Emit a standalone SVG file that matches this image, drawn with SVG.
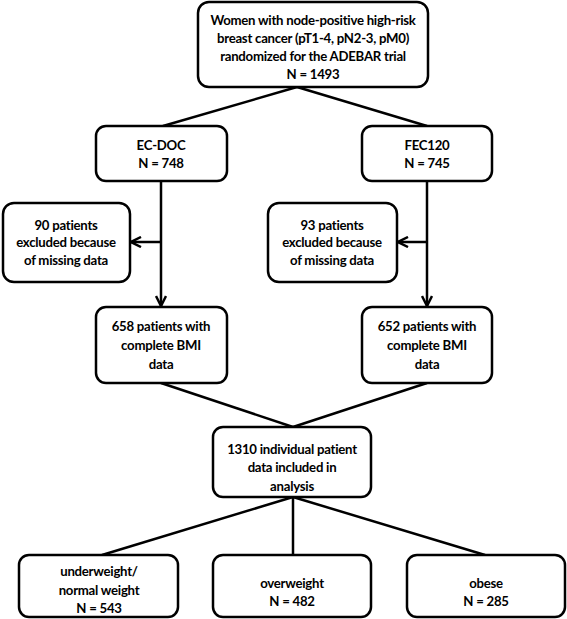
<svg xmlns="http://www.w3.org/2000/svg" width="567" height="619" viewBox="0 0 567 619">
<style>
rect{fill:#fff;stroke:#000;stroke-width:2.5}
text{font-family:Lato,"Liberation Sans",sans-serif;font-weight:bold;font-size:13.2px;letter-spacing:-0.25px;text-anchor:middle;fill:#000}
.c line{stroke:#000;stroke-width:2.5;fill:none}
</style>
<defs>
<marker id="ah" viewBox="0 0 10 10" refX="9" refY="5" markerWidth="5" markerHeight="5" orient="auto" markerUnits="strokeWidth">
<path d="M1,1 L9,5 L1,9" fill="none" stroke="#000" stroke-width="2"/>
</marker>
</defs>
<rect x="0" y="0" width="567" height="619" style="stroke:none"/>
<g class="c" id="connectors">
<line x1="297" y1="87" x2="163" y2="126"/>
<line x1="297" y1="87" x2="427" y2="126"/>
<line x1="161" y1="181" x2="161" y2="306" marker-end="url(#ah)"/>
<line x1="161" y1="242" x2="131" y2="242" marker-end="url(#ah)"/>
<line x1="427" y1="181" x2="427" y2="306" marker-end="url(#ah)"/>
<line x1="427" y1="242" x2="398" y2="242" marker-end="url(#ah)"/>
<line x1="161" y1="383" x2="293" y2="427"/>
<line x1="427" y1="383" x2="293" y2="427"/>
<line x1="293" y1="497" x2="102" y2="555"/>
<line x1="293" y1="497" x2="293" y2="555"/>
<line x1="293" y1="497" x2="485" y2="555"/>
</g>
<g id="top">
<rect x="198" y="2" width="230" height="85" rx="11"/>
<text x="313" y="25">Women with node-positive high-risk</text>
<text x="313" y="43">breast cancer (pT1-4, pN2-3, pM0)</text>
<text x="313" y="61">randomized for the ADEBAR trial</text>
<text x="313" y="79">N = 1493</text>
</g>
<g id="ecdoc">
<rect x="96" y="126" width="131" height="55" rx="10"/>
<text x="161" y="150">EC-DOC</text>
<text x="161" y="168">N = 748</text>
</g>
<g id="fec">
<rect x="362" y="126" width="130" height="55" rx="10"/>
<text x="427" y="150">FEC120</text>
<text x="427" y="168">N = 745</text>
</g>
<g id="excl1">
<rect x="3" y="203" width="127" height="79" rx="11"/>
<text x="66" y="230">90 patients</text>
<text x="66" y="247">excluded because</text>
<text x="66" y="265">of missing data</text>
</g>
<g id="excl2">
<rect x="268" y="203" width="129" height="79" rx="11"/>
<text x="332" y="230">93 patients</text>
<text x="332" y="247">excluded because</text>
<text x="332" y="265">of missing data</text>
</g>
<g id="bmi1">
<rect x="96" y="307" width="131" height="76" rx="10"/>
<text x="161" y="331">658 patients with</text>
<text x="161" y="350">complete BMI</text>
<text x="161" y="369">data</text>
</g>
<g id="bmi2">
<rect x="362" y="307" width="130" height="76" rx="10"/>
<text x="427" y="331">652 patients with</text>
<text x="427" y="350">complete BMI</text>
<text x="427" y="369">data</text>
</g>
<g id="all">
<rect x="213" y="427" width="158" height="70" rx="10"/>
<text x="292" y="454">1310 individual patient</text>
<text x="292" y="472">data included in</text>
<text x="292" y="491">analysis</text>
</g>
<g id="under">
<rect x="19" y="555" width="159" height="62" rx="10"/>
<text x="99" y="576">underweight/</text>
<text x="99" y="595">normal weight</text>
<text x="99" y="613">N = 543</text>
</g>
<g id="over">
<rect x="213" y="555" width="158" height="62" rx="10"/>
<text x="292" y="588">overweight</text>
<text x="292" y="606">N = 482</text>
</g>
<g id="obese">
<rect x="407" y="555" width="158" height="62" rx="10"/>
<text x="486" y="588">obese</text>
<text x="486" y="606">N = 285</text>
</g>
</svg>
